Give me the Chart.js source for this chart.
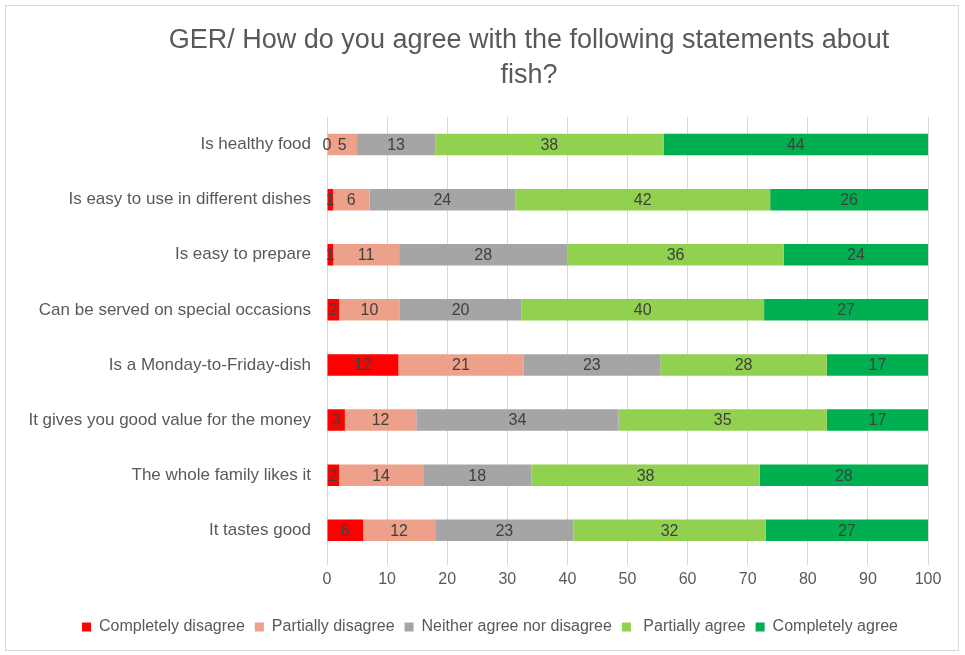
<!DOCTYPE html>
<html>
<head>
<meta charset="utf-8">
<title>GER fish statements</title>
<script src="https://cdn.jsdelivr.net/npm/chart.js@4.4.1/dist/chart.umd.min.js"></script>
<style>
  html, body { margin: 0; padding: 0; background: #fff; }
  #wrap { position: relative; width: 965px; height: 655px; }
  #frame { position: absolute; left: 5px; top: 5px; width: 952px; height: 644px; border: 1px solid #d9d9d9; pointer-events: none; }
</style>
</head>
<body>
<div id="wrap">
  <canvas id="fishChart" width="965" height="655"></canvas>
  <div id="frame"></div>
</div>
<script>
const FONT = "'Liberation Sans', Arial, sans-serif"
const TEXT_GREY = '#595959'

const titleLines = ['GER/ How do you agree with the following statements about', 'fish?']

// statements, top to bottom
const statements = [
  'Is healthy food',
  'Is easy to use in different dishes',
  'Is easy to prepare',
  'Can be served on special occasions',
  'Is a Monday-to-Friday-dish',
  'It gives you good value for the money',
  'The whole family likes it',
  'It tastes good'
]

// share of answers (%) per statement, rounded
const completelyDisagree = [0, 1, 1, 2, 12, 3, 2, 6]
const partiallyDisagree  = [5, 6, 11, 10, 21, 12, 14, 12]
const neither            = [13, 24, 28, 20, 23, 34, 18, 23]
const partiallyAgree     = [38, 42, 36, 40, 28, 35, 38, 32]
const completelyAgree    = [44, 26, 24, 27, 17, 17, 28, 27]

const xTicks = [0, 10, 20, 30, 40, 50, 60, 70, 80, 90, 100]

const series = [
  { label: 'Completely disagree', data: completelyDisagree, color: '#ff0000' },
  { label: 'Partially disagree', data: partiallyDisagree, color: '#eda08a' },
  { label: 'Neither agree nor disagree', data: neither, color: '#a5a5a5' },
  { label: ' Partially agree', data: partiallyAgree, color: '#92d050' },
  { label: 'Completely agree', data: completelyAgree, color: '#00b050' }
]

// 100% stacked: each row is scaled so its parts fill the axis
const rowTotals = statements.map((_, j) => series.reduce((sum, s) => sum + s.data[j], 0))

// writes each segment's (rounded) value in the middle of the segment
const barLabels = {
  id: 'barLabels',
  afterDatasetsDraw(chart) {
    const ctx = chart.ctx
    ctx.save()
    ctx.font = '16px ' + FONT
    ctx.fillStyle = '#404040'
    ctx.textAlign = 'center'
    ctx.textBaseline = 'middle'
    chart.data.datasets.forEach((ds, i) => {
      chart.getDatasetMeta(i).data.forEach((bar, j) => {
        const p = bar.getProps(['x', 'base', 'y'], true)
        ctx.fillText(String(series[i].data[j]), (p.x + p.base) / 2, p.y + 1)
      })
    })
    ctx.restore()
  }
}

// two-line title, drawn in the space kept free by layout.padding.top
const chartTitle = {
  id: 'chartTitle',
  afterDraw(chart) {
    const ctx = chart.ctx
    ctx.save()
    ctx.font = '27px ' + FONT
    ctx.fillStyle = TEXT_GREY
    ctx.textAlign = 'center'
    ctx.textBaseline = 'middle'
    titleLines.forEach((line, i) => ctx.fillText(line, 529, 41 + i * 35))
    ctx.restore()
  }
}

// legend row sits a bit right of the canvas centre
const legendShift = {
  id: 'legendShift',
  afterLayout(chart) {
    chart.legend.left += 52
  }
}

new Chart(document.getElementById('fishChart'), {
  type: 'bar',
  data: {
    labels: statements,
    datasets: series.map((s, i) => ({
      label: s.label,
      data: s.data.map((v, j) => v / rowTotals[j] * 100),
      backgroundColor: s.color,
      borderWidth: 0,
      categoryPercentage: 1,
      barPercentage: 0.39
    }))
  },
  options: {
    indexAxis: 'y',
    responsive: false,
    animation: false,
    events: [],
    layout: { padding: { left: 0, right: 37, top: 117, bottom: 10 } },
    scales: {
      x: {
        stacked: true,
        min: 0,
        max: 100,
        afterBuildTicks: axis => { axis.ticks = xTicks.map(v => ({ value: v })) },
        afterFit: axis => { axis.height += 15 },
        grid: { color: '#d9d9d9', lineWidth: 1, drawTicks: true, tickLength: 7 },
        border: { display: false },
        ticks: { color: TEXT_GREY, font: { family: FONT, size: 16 }, padding: 5 }
      },
      y: {
        stacked: true,
        grid: { display: false, drawTicks: false },
        border: { display: false },
        afterFit: axis => { axis.width = 327 },
        ticks: { color: TEXT_GREY, font: { family: FONT, size: 17 }, padding: 16 }
      }
    },
    plugins: {
      title: { display: false },
      legend: {
        position: 'bottom',
        labels: {
          color: TEXT_GREY,
          font: { family: FONT, size: 16 },
          boxWidth: 9,
          boxHeight: 9,
          padding: 10
        }
      },
      tooltip: { enabled: false }
    }
  },
  plugins: [barLabels, chartTitle, legendShift]
})
</script>
</body>
</html>
